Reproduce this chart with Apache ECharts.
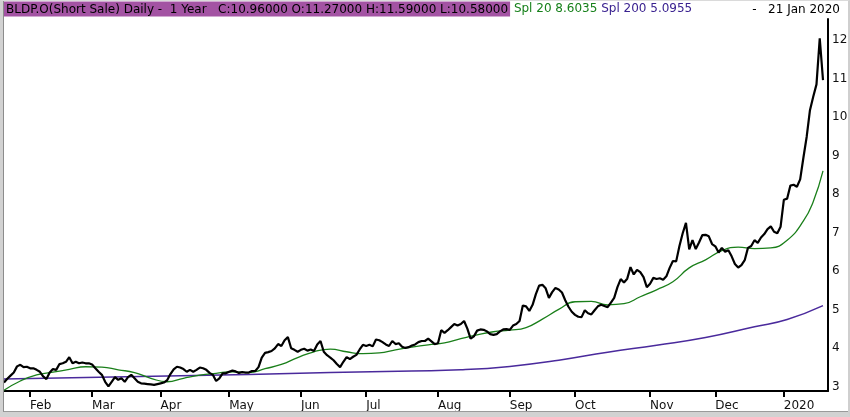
<!DOCTYPE html>
<html>
<head>
<meta charset="utf-8">
<script src="https://cdn.jsdelivr.net/npm/echarts@6/dist/echarts.min.js"></script>
<style>
  html, body { margin: 0; padding: 0; background: #fff; }
  #wrap { position: relative; width: 850px; height: 417px; }
  #chart { width: 850px; height: 417px; }
  #frame { position: absolute; left: 0; top: 0; width: 850px; height: 417px; box-sizing: border-box;
           border-left: 3px solid #d2d2d2; border-right: 2px solid #cfcfcf; border-bottom: 5px solid #d2d2d2;
           border-top: 1px solid #dadada; pointer-events: none; }
  #inner { position: absolute; left: 0; top: 0; right: 0; bottom: 0;
           border-left: 1px solid #8c8c8c; border-bottom: 1px solid #9a9a9a; pointer-events: none; }
</style>
</head>
<body>
<div id="wrap"><div id="chart"></div><div id="frame"><div id="inner"></div></div></div>
<script>
// ---- data ----
const startDate = '2019-01-22';
const endDate = '2020-01-21';
const holidays = ['2019-02-18','2019-04-19','2019-05-27','2019-07-04','2019-09-02','2019-11-28','2019-12-25','2020-01-01','2020-01-20'];

const closes = [
  3.10,3.20,3.28,3.36,3.52,3.56,3.50,3.51,3.47,3.47,
  3.43,3.38,3.26,3.19,3.36,3.45,3.43,3.58,3.60,3.64,
  3.76,3.60,3.64,3.60,3.62,3.60,3.60,3.57,3.47,3.38,
  3.30,3.12,3.00,3.12,3.24,3.17,3.21,3.12,3.24,3.30,
  3.21,3.12,3.08,3.07,3.06,3.05,3.04,3.06,3.08,3.10,
  3.16,3.32,3.44,3.51,3.49,3.45,3.38,3.43,3.38,3.43,
  3.49,3.47,3.43,3.35,3.30,3.14,3.21,3.34,3.34,3.38,
  3.41,3.39,3.35,3.37,3.36,3.36,3.40,3.40,3.50,3.75,
  3.87,3.89,3.92,3.99,4.10,4.05,4.20,4.28,3.99,3.95,
  3.90,3.95,3.98,3.93,3.96,3.92,4.09,4.18,3.90,3.81,
  3.75,3.68,3.58,3.50,3.64,3.76,3.71,3.77,3.82,3.96,
  4.08,4.05,4.08,4.04,4.22,4.20,4.15,4.09,4.05,4.18,
  4.10,4.12,4.03,4.00,4.02,4.06,4.09,4.15,4.18,4.18,
  4.24,4.17,4.10,4.12,4.46,4.39,4.46,4.54,4.62,4.58,
  4.62,4.70,4.50,4.24,4.30,4.45,4.48,4.47,4.43,4.36,
  4.34,4.36,4.43,4.48,4.49,4.47,4.58,4.62,4.70,5.10,
  5.08,4.96,5.12,5.40,5.62,5.64,5.55,5.30,5.45,5.56,
  5.52,5.44,5.24,5.07,4.94,4.86,4.81,4.80,4.98,4.90,
  4.87,4.98,5.08,5.12,5.09,5.06,5.18,5.30,5.58,5.79,
  5.70,5.80,6.10,5.91,6.03,5.97,5.84,5.58,5.67,5.82,
  5.79,5.81,5.77,5.86,6.08,6.26,6.25,6.65,6.98,7.25,
  6.56,6.80,6.57,6.74,6.93,6.94,6.90,6.70,6.64,6.48,
  6.60,6.50,6.54,6.38,6.18,6.09,6.15,6.28,6.60,6.65,
  6.80,6.73,6.87,6.96,7.09,7.16,7.02,6.98,7.15,7.85,
  7.88,8.22,8.24,8.19,8.38,8.95,9.49,10.18,10.53,10.85,
  12.05,10.96
];

// 20-day moving average, read at sampled trading-day positions
const sma20Days   = [0,5,10,15,20,25,30,35,40,45,50,55,60,65,70,75,80,85,90,95,100,105,110,115,120,125,130,135,140,145,150,155,160,165,170,175,180,185,190,195,200,205,210,215,220,225,230,235,240,245,248,251];
const sma20Values = [2.90,3.14,3.30,3.37,3.44,3.51,3.50,3.43,3.36,3.21,3.12,3.21,3.29,3.34,3.38,3.36,3.46,3.57,3.75,3.90,3.97,3.90,3.85,3.87,3.95,4.02,4.08,4.13,4.24,4.34,4.42,4.46,4.53,4.75,5.00,5.20,5.21,5.12,5.15,5.33,5.51,5.72,6.08,6.29,6.53,6.62,6.58,6.60,6.80,7.30,7.80,8.60];

// 200-day moving average
const sma200Days   = [0,25,50,75,100,125,140,155,170,185,200,215,230,240,251];
const sma200Values = [3.19,3.23,3.27,3.31,3.36,3.40,3.43,3.52,3.68,3.89,4.07,4.27,4.55,4.74,5.10];

const tickMonths = ['2019-02','2019-03','2019-04','2019-05','2019-06','2019-07','2019-08','2019-09','2019-10','2019-11','2019-12','2020-01'];
const tickLabels = ['Feb','Mar','Apr','May','Jun','Jul','Aug','Sep','Oct','Nov','Dec','2020'];
const yTicks = [3,4,5,6,7,8,9,10,11,12];

// ---- trading-day calendar ----
function tradingDays(s, e, hol) {
  const out = [];
  const d = new Date(s + 'T00:00:00Z');
  const end = new Date(e + 'T00:00:00Z');
  while (d <= end) {
    const iso = d.toISOString().slice(0, 10);
    const wd = d.getUTCDay();
    if (wd !== 0 && wd !== 6 && hol.indexOf(iso) < 0) out.push(iso);
    d.setUTCDate(d.getUTCDate() + 1);
  }
  return out;
}
const dates = tradingDays(startDate, endDate, holidays);
const tickIdx = tickMonths.map(m => dates.findIndex(d => d.slice(0, 7) === m));
const labelOf = {};
tickIdx.forEach((ix, k) => { labelOf[ix] = tickLabels[k]; });

const FONT = 'DejaVu Sans';
const chart = echarts.init(document.getElementById('chart'), null, { renderer: 'canvas' });
chart.setOption({
  animation: false,
  backgroundColor: '#ffffff',
  title: [
    {
      left: 4, top: 2, padding: 0,
      text: '{a|BLDP.O(Short Sale) Daily -  1 Year   C:10.96000 O:11.27000 H:11.59000 L:10.58000}{g| Spl 20 8.6035}{p| Spl 200 5.0955}',
      textStyle: {
        fontFamily: FONT, fontSize: 12, fontWeight: 'normal',
        rich: {
          a: { backgroundColor: '#a353a3', color: '#000', fontFamily: FONT, fontSize: 12, lineHeight: 14, padding: [2, 2, 1, 2] },
          g: { color: '#16801a', fontFamily: FONT, fontSize: 12, lineHeight: 14 },
          p: { color: '#3a2290', fontFamily: FONT, fontSize: 12, lineHeight: 14 }
        }
      }
    },
    {
      right: 10, top: 4, padding: 0,
      text: '-   21 Jan 2020',
      textStyle: { fontFamily: FONT, fontSize: 12, fontWeight: 'normal', color: '#000' }
    }
  ],
  grid: { left: 4, right: 22, top: 19, bottom: 26, containLabel: false, outerBoundsMode: 'none' },
  xAxis: {
    type: 'value',
    min: 0,
    max: 252.53,
    axisLine: { show: true, onZero: false, lineStyle: { color: '#000', width: 2 } },
    axisTick: { show: true, customValues: tickIdx, length: 6, lineStyle: { color: '#000', width: 2 } },
    axisLabel: {
      customValues: tickIdx, align: 'left', margin: 9,
      fontFamily: FONT, fontSize: 12, color: '#111',
      formatter: v => labelOf[v] || ''
    },
    splitLine: { show: false }
  },
  yAxis: {
    type: 'value',
    position: 'right',
    min: 2.88,
    max: 12.55,
    axisLine: { show: true, onZero: false, lineStyle: { color: '#000', width: 2 } },
    axisTick: { show: false },
    axisLabel: { customValues: yTicks, margin: 4, fontFamily: FONT, fontSize: 12, color: '#111' },
    splitLine: { show: false }
  },
  series: [
    {
      name: 'Spl 200', type: 'line', smooth: true, showSymbol: false,
      data: sma200Days.map((d, k) => [d, sma200Values[k]]),
      lineStyle: { color: '#4a2a9c', width: 1.5 }
    },
    {
      name: 'Spl 20', type: 'line', smooth: true, showSymbol: false,
      data: sma20Days.map((d, k) => [d, sma20Values[k]]),
      lineStyle: { color: '#1a7f1a', width: 1.3 }
    },
    {
      name: 'Close', type: 'line', showSymbol: false,
      data: closes.map((v, i) => [i, v]),
      lineStyle: { color: '#000', width: 2.2 }
    }
  ]
});
</script>
</body>
</html>
